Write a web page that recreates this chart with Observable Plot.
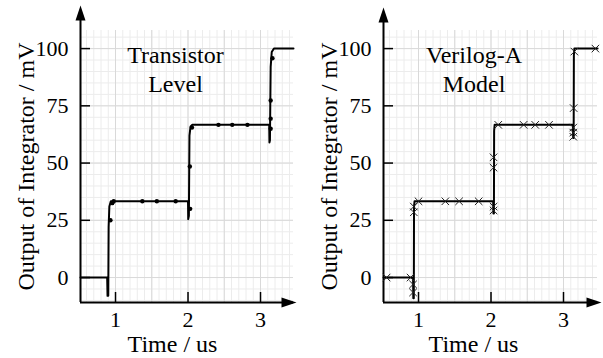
<!DOCTYPE html>
<html>
<head>
<meta charset="utf-8">
<script src="https://cdn.jsdelivr.net/npm/d3@7"></script>
<script src="https://cdn.jsdelivr.net/npm/@observablehq/plot@0.6"></script>
<style>
  html, body { margin: 0; padding: 0; background: #fff; }
  #wrap { position: relative; width: 603px; height: 358px; overflow: hidden; }
  #wrap svg { position: absolute; top: 0; font-family: "Liberation Serif", "Times New Roman", serif; overflow: visible; }
</style>
</head>
<body>
<div id="wrap"></div>
<script>
// ---- data ----
const xTicks = [1, 2, 3];
const yTicks = [0, 25, 50, 75, 100];
const xLabel = "Time / us";
const yLabel = "Output of Integrator / mV";

const titleTransistor = "Transistor\nLevel";
const transistorT = [0.517, 0.885, 0.89, 0.90, 0.905, 0.915, 0.935, 2.0, 2.003, 2.012, 2.02, 2.035, 2.06, 3.12, 3.123, 3.13, 3.14, 3.155, 3.185, 3.455];
const transistorV = [0, 0, -8, -8, 22, 31, 33.3, 33.3, 25.5, 27, 62, 66, 66.7, 66.7, 59, 60, 92, 98.5, 100, 100];
const transistorDotT = [0.93, 0.955, 0.975, 1.37, 1.57, 1.83, 2.03, 2.025, 2.055, 2.42, 2.61, 2.82, 3.14, 3.14, 3.14, 3.165];
const transistorDotV = [25, 32.5, 33.3, 33.3, 33.3, 33.3, 30, 48.5, 65.5, 66.7, 66.7, 66.7, 65, 69.4, 77.3, 95.8];

const titleVerilog = "Verilog-A\nModel";
const verilogT = [0.517, 0.925, 0.928, 0.935, 0.938, 0.945, 2.03, 2.033, 2.04, 2.043, 2.05, 3.13, 3.133, 3.14, 3.143, 3.15, 3.47];
const verilogV = [0, 0, -9, -9, 31, 33.3, 33.3, 28, 28, 64, 66.7, 66.7, 61, 61, 97, 100, 100];
const verilogMarkT = [0.56, 0.89, 0.925, 0.925, 0.935, 0.935, 1.0, 1.37, 1.56, 1.83, 2.035, 2.035, 2.035, 2.035, 2.1, 2.45, 2.61, 2.8, 3.135, 3.135, 3.135, 3.14, 3.15, 3.44];
const verilogMarkV = [0, 0, -3, -6.5, 28.5, 31, 33.3, 33.3, 33.3, 33.3, 29.3, 31, 48, 52.5, 66.7, 66.7, 66.7, 66.7, 61.5, 63.3, 65.5, 74, 98.7, 100];

// ---- panel builder ----
const TICKFONT = 22;
const LABELFONT = 24;
const arrowHead = {
  draw(ctx) {
    ctx.moveTo(0, -7.5);
    ctx.lineTo(5, 7.5);
    ctx.lineTo(-5, 7.5);
    ctx.closePath();
  }
};

function panel({left, width, marginLeft, marginRight, xDomain, yDomain, T, V, MT, MV, symbol, markR, title, titleDx, xLabelDx, yArrowDy, xArrowDx}) {
  const height = 358, marginTop = 30, marginBottom = 56;
  const frameW = width - marginLeft - marginRight;
  const frameH = height - marginTop - marginBottom;
  const minorX = d3.range(0.6, xDomain[1], 0.1).map(v => Math.round(v * 10) / 10);
  const majorX = minorX.filter(v => Math.abs(v * 2 - Math.round(v * 2)) < 1e-6);
  const minorY = d3.range(-10, yDomain[1], 5);
  const majorY = minorY.filter(v => v % 25 === 0);
  const line = T.map((t, i) => ({t, v: V[i]}));
  const marks = MT.map((t, i) => ({t, v: MV[i]}));
  const svg = Plot.plot({
    width, height, marginLeft, marginRight, marginTop, marginBottom,
    style: {fontFamily: "'Liberation Serif', 'Times New Roman', serif", fontSize: TICKFONT + "px", color: "#000", background: "transparent", overflow: "visible"},
    x: {domain: xDomain, ticks: xTicks, tickFormat: d => String(d)},
    y: {domain: yDomain, ticks: yTicks, tickFormat: d => String(d)},
    marks: [
      Plot.gridX(minorX, {stroke: "#ececec", strokeOpacity: 1}),
      Plot.gridY(minorY, {stroke: "#ececec", strokeOpacity: 1}),
      Plot.gridX(majorX, {stroke: "#d9d9d9", strokeOpacity: 1}),
      Plot.gridY(majorY, {stroke: "#d9d9d9", strokeOpacity: 1}),
      Plot.axisX(xTicks, {tickSize: 0, tickPadding: 9, label: null, fontSize: TICKFONT}),
      Plot.axisY(yTicks, {tickSize: 0, tickPadding: 12, label: null, fontSize: TICKFONT}),
      // inward tick marks
      Plot.ruleX(xTicks, {stroke: "#000", strokeWidth: 1.5, insetTop: frameH - 10}),
      Plot.ruleY(yTicks, {stroke: "#000", strokeWidth: 1.5, insetRight: frameW - 10}),
      // axis lines with arrow heads
      Plot.ruleY([yDomain[0]], {stroke: "#000", strokeWidth: 2}),
      Plot.ruleX([xDomain[0]], {stroke: "#000", strokeWidth: 2, insetTop: -12}),
      Plot.dot([0], {x: xDomain[0], y: yDomain[1], symbol: arrowHead, fill: "#000", stroke: null, r: 5, dy: yArrowDy}),
      Plot.dot([0], {x: xDomain[1], y: yDomain[0], symbol: arrowHead, fill: "#000", stroke: null, r: 5, rotate: 90, dx: xArrowDx}),
      // waveform
      Plot.line(line, {x: "t", y: "v", stroke: "#000", strokeWidth: 2, strokeLinejoin: "round", curve: "linear"}),
      symbol === "dot"
        ? Plot.dot(marks, {x: "t", y: "v", r: markR, fill: "#000", stroke: null})
        : Plot.dot(marks, {x: "t", y: "v", r: markR, symbol: "times", stroke: "#222", strokeWidth: 1}),
      // titles and labels
      Plot.text([title], {frameAnchor: "top", textAnchor: "middle", lineAnchor: "top", dy: 13, dx: titleDx, fontSize: LABELFONT, lineHeight: 1.17, fill: "#000"}),
      Plot.text([xLabel], {frameAnchor: "bottom", textAnchor: "middle", lineAnchor: "top", dy: 32, dx: xLabelDx, fontSize: LABELFONT, fill: "#000"}),
      Plot.text([yLabel], {frameAnchor: "left", textAnchor: "middle", lineAnchor: "middle", rotate: -90, dx: -54, fontSize: LABELFONT, fill: "#000"})
    ]
  });
  svg.style.left = left + "px";
  return svg;
}

const wrap = document.getElementById("wrap");
wrap.appendChild(panel({
  left: 0, width: 300, marginLeft: 80, marginRight: 7,
  xDomain: [0.517, 3.455], yDomain: [-10.9, 107.9],
  T: transistorT, V: transistorV, MT: transistorDotT, MV: transistorDotV,
  symbol: "dot", markR: 2.2, title: titleTransistor, titleDx: -11.5, xLabelDx: -14.5,
  yArrowDy: -17.5, xArrowDx: -4.5
}));
wrap.appendChild(panel({
  left: 300, width: 303, marginLeft: 83, marginRight: 6,
  xDomain: [0.517, 3.469], yDomain: [-10.9, 107.9],
  T: verilogT, V: verilogV, MT: verilogMarkT, MV: verilogMarkV,
  symbol: "times", markR: 3.5, title: titleVerilog, titleDx: -16.5, xLabelDx: -17,
  yArrowDy: -15.5, xArrowDx: -3.5
}));
</script>
</body>
</html>
